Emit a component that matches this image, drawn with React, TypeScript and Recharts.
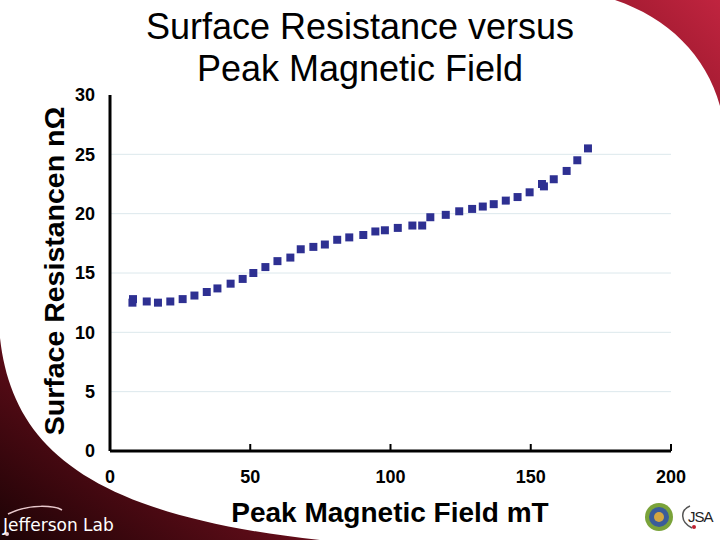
import React from 'react';
import { ScatterChart, Scatter, XAxis, YAxis, ZAxis, CartesianGrid } from 'recharts';

// Peak magnetic field (mT) and surface resistance (nOhm)
const fieldMT = [
    8.2, 8.0, 13.1, 17.1, 21.5, 25.9, 30.1, 34.5, 38.3, 43.0,
    47.3, 51.1, 55.4, 59.7, 64.3, 68.0, 72.5, 76.6, 81.0, 85.3,
    90.3, 94.6, 98.0, 102.6, 107.8, 111.3, 114.2, 119.7, 124.5, 129.1,
    132.9, 136.8, 141.1, 145.3, 149.6, 154.0, 154.7, 158.2, 162.8, 166.6,
    170.4,
];
const resistance = [
    12.8, 12.5, 12.6, 12.5, 12.6, 12.8, 13.1, 13.4, 13.7, 14.1,
    14.5, 15.0, 15.5, 16.0, 16.3, 17.0, 17.2, 17.4, 17.8, 18.0,
    18.2, 18.5, 18.6, 18.8, 19.0, 19.0, 19.7, 19.9, 20.2, 20.4,
    20.6, 20.8, 21.1, 21.4, 21.8, 22.5, 22.3, 22.9, 23.6, 24.5,
    25.5,
];

const xTicks = [0, 50, 100, 150, 200];
const yTicks = [0, 5, 10, 15, 20, 25, 30];
const gridValues = [5, 10, 15, 20, 25];

const points = fieldMT.map((x, i) => ({ x, y: resistance[i] }));

const FONT = '"Liberation Sans", Arial, sans-serif';

const XTick = (props: any) => {
    const { x, y, payload } = props;
    return (
        <g>
            {payload.value !== 0 && (
                <line x1={x} x2={x} y1={y} y2={y - 7} stroke="#000" strokeWidth={2} />
            )}
            <text
                x={x}
                y={y + 32}
                textAnchor="middle"
                fontFamily={FONT}
                fontWeight="bold"
                fontSize={18}
                fill="#000"
            >
                {payload.value}
            </text>
        </g>
    );
};

export default function App() {
    return (
        <div
            style={{
                position: 'absolute',
                left: 0,
                top: 0,
                width: 720,
                height: 540,
                background: '#fff',
                overflow: 'hidden',
            }}
        >
            {/* slide background swooshes */}
            <svg width={720} height={540} style={{ position: 'absolute', left: 0, top: 0 }}>
                <defs>
                    <linearGradient id="leftSwoosh" x1="0" y1="1" x2="0.9" y2="0.2">
                        <stop offset="0%" stopColor="#1c0305" />
                        <stop offset="55%" stopColor="#5e0c18" />
                        <stop offset="100%" stopColor="#8a1a2a" />
                    </linearGradient>
                    <linearGradient id="rightSwoosh" x1="1" y1="0" x2="0" y2="1">
                        <stop offset="0%" stopColor="#c0243f" />
                        <stop offset="100%" stopColor="#8c1426" />
                    </linearGradient>
                </defs>
                <path d="M0,338 C12,445 85,515 320,540 L0,540 Z" fill="url(#leftSwoosh)" />
                <path d="M615,0 C668,18 706,55 720,106 L720,0 Z" fill="url(#rightSwoosh)" />
            </svg>

            <div style={{ position: 'absolute', left: 0, top: 0 }}>
                <ScatterChart
                    width={720}
                    height={540}
                    margin={{ top: 95, right: 49, bottom: 59, left: 50 }}
                >
                    <CartesianGrid
                        vertical={false}
                        stroke="#dce8ec"
                        strokeWidth={1}
                        horizontalValues={gridValues}
                    />
                    <XAxis
                        type="number"
                        dataKey="x"
                        domain={[0, 200]}
                        ticks={xTicks}
                        interval={0}
                        height={30}
                        tickLine={false}
                        tickSize={0}
                        tickMargin={0}
                        axisLine={{ stroke: '#000', strokeWidth: 3 }}
                        tick={<XTick />}
                    />
                    <YAxis
                        type="number"
                        dataKey="y"
                        domain={[0, 30]}
                        ticks={yTicks}
                        interval={0}
                        width={60}
                        tickLine={false}
                        tickSize={0}
                        tickMargin={15}
                        axisLine={{ stroke: '#000', strokeWidth: 3 }}
                        tick={{ fill: '#000', fontSize: 18, fontWeight: 'bold', fontFamily: FONT }}
                    />
                    <ZAxis range={[62, 62]} />
                    <Scatter
                        data={points}
                        shape="square"
                        fill="#2e3092"
                        isAnimationActive={false}
                    />
                </ScatterChart>
            </div>

            {/* titles, labels and logos */}
            <svg
                width={720}
                height={540}
                style={{ position: 'absolute', left: 0, top: 0, pointerEvents: 'none' }}
            >
                <text x={360} y={39} textAnchor="middle" fontFamily={FONT} fontSize={36} fill="#000">
                    Surface Resistance versus
                </text>
                <text x={360} y={81} textAnchor="middle" fontFamily={FONT} fontSize={36} fill="#000">
                    Peak Magnetic Field
                </text>
                <text
                    x={390}
                    y={522}
                    textAnchor="middle"
                    fontFamily={FONT}
                    fontWeight="bold"
                    fontSize={28}
                    fill="#000"
                >
                    Peak Magnetic Field mT
                </text>
                <text
                    transform="translate(64,271) rotate(-90)"
                    textAnchor="middle"
                    fontFamily={FONT}
                    fontWeight="bold"
                    fontSize={28.5}
                    fill="#000"
                >
                    Surface Resistancen nΩ
                </text>

                {/* Jefferson Lab mark */}
                <path
                    d="M8,514 C30,503 55,506 62,510"
                    fill="none"
                    stroke="#e8c8cc"
                    strokeWidth={1.5}
                />
                <circle cx={7} cy={534} r={2} fill="#f0d0d4" />
                <text x={3} y={531} fontFamily='"DejaVu Sans", sans-serif' fontSize={17} fill="#fff">
                    Jefferson Lab
                </text>

                {/* DOE seal and JSA */}
                <circle cx={659} cy={517} r={14} fill="#7aa33a" />
                <circle cx={659} cy={517} r={10} fill="#3a5c9a" />
                <circle cx={659} cy={517} r={5} fill="#d4a640" />
                <path d="M690,506 C680,510 680,522 692,528" fill="none" stroke="#555" strokeWidth={1.5} />
                <circle cx={694} cy={527} r={2} fill="#c02030" />
                <text x={688} y={522} fontFamily={FONT} fontSize={15} fill="#222" letterSpacing={-1}>
                    JSA
                </text>
            </svg>
        </div>
    );
}
